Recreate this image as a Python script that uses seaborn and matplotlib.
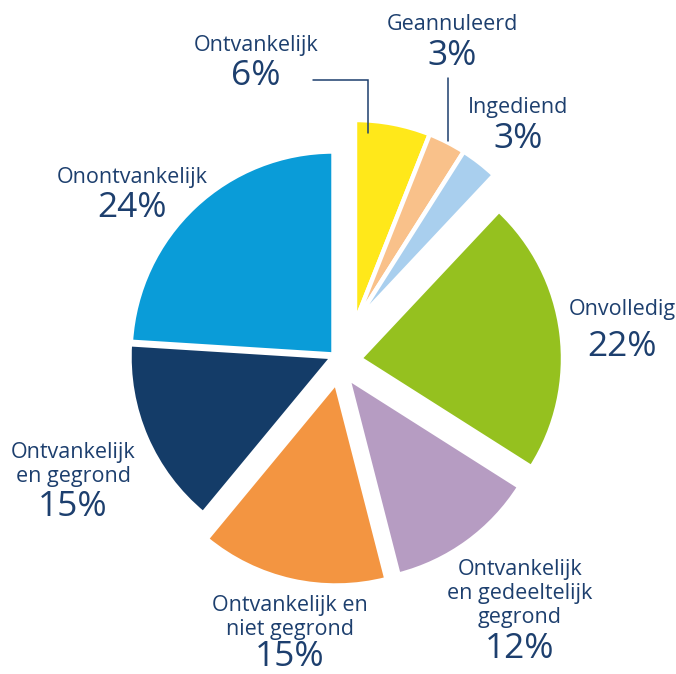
import matplotlib
matplotlib.use("Agg")
import matplotlib.pyplot as plt
import seaborn as sns

# Status of submitted requests (percent of total), clockwise from the top
categories = [
    "Ontvankelijk",
    "Geannuleerd",
    "Ingediend",
    "Onvolledig",
    "Ontvankelijk\nen gedeeltelijk\ngegrond",
    "Ontvankelijk en\nniet gegrond",
    "Ontvankelijk\nen gegrond",
    "Onontvankelijk",
]
shares = [6, 3, 3, 22, 12, 15, 15, 24]
colors = ["#FFE81A", "#F9C18A", "#A9CFEE", "#95C11F",
          "#B69CC2", "#F39541", "#143C68", "#0A9CD8"]

TEXT = "#1D3F6E"
W, H = 676, 674

sns.set_theme(style="white")
plt.rcParams["font.family"] = ["Open Sans", "DejaVu Sans"]

fig = plt.figure(figsize=(W / 100, H / 100), dpi=100)
ax = fig.add_axes([0, 0, 1, 1])

center = (338, H - 358)
radius = 203
wedges, _ = ax.pie(shares, colors=colors, startangle=90, counterclock=False,
                   radius=radius, center=center, frame=True,
                   wedgeprops=dict(edgecolor="white", linewidth=3.2))

# pull each slice away from the middle (pixels: right, down)
pull = [(17, -35), (17, -35), (17, -35), (22, 0.5),
        (10, 20), (-2, 24.5), (-5.5, -1), (-4.5, -3.5)]
for w, (dx, dy) in zip(wedges, pull):
    w.set_center((center[0] + dx, center[1] - dy))

ax.set_xlim(0, W)
ax.set_ylim(0, H)
ax.set_aspect("equal")
ax.axis("off")

# label placement: column centre, first-line baseline, percentage baseline (pixels from top)
label_x = [256, 452, 518, 622, 520, 290, 73, 132]
name_base = [50.7, 29.5, 113.4, 314.7, 574.5, 611, 458, 183]
pct_base = [85, 65, 148, 356, 658, 666, 516.5, 217]
line_step = 24

for name, share, x, nb, pb in zip(categories, shares, label_x, name_base, pct_base):
    for i, line in enumerate(name.split("\n")):
        ax.text(x, H - (nb + i * line_step), line, ha="center", va="baseline",
                fontsize=15.5, color=TEXT)
    ax.text(x, H - pb, f"{share}%", ha="center", va="baseline",
            fontsize=25.5, color=TEXT)

# leader lines for the two small labels at the top
ax.plot([313, 368, 368], [H - 80, H - 80, H - 133], color=TEXT, lw=1.1,
        solid_joinstyle="miter")
ax.plot([448, 448], [H - 78, H - 141], color=TEXT, lw=1.1)

fig.savefig("out.png", dpi=100)
